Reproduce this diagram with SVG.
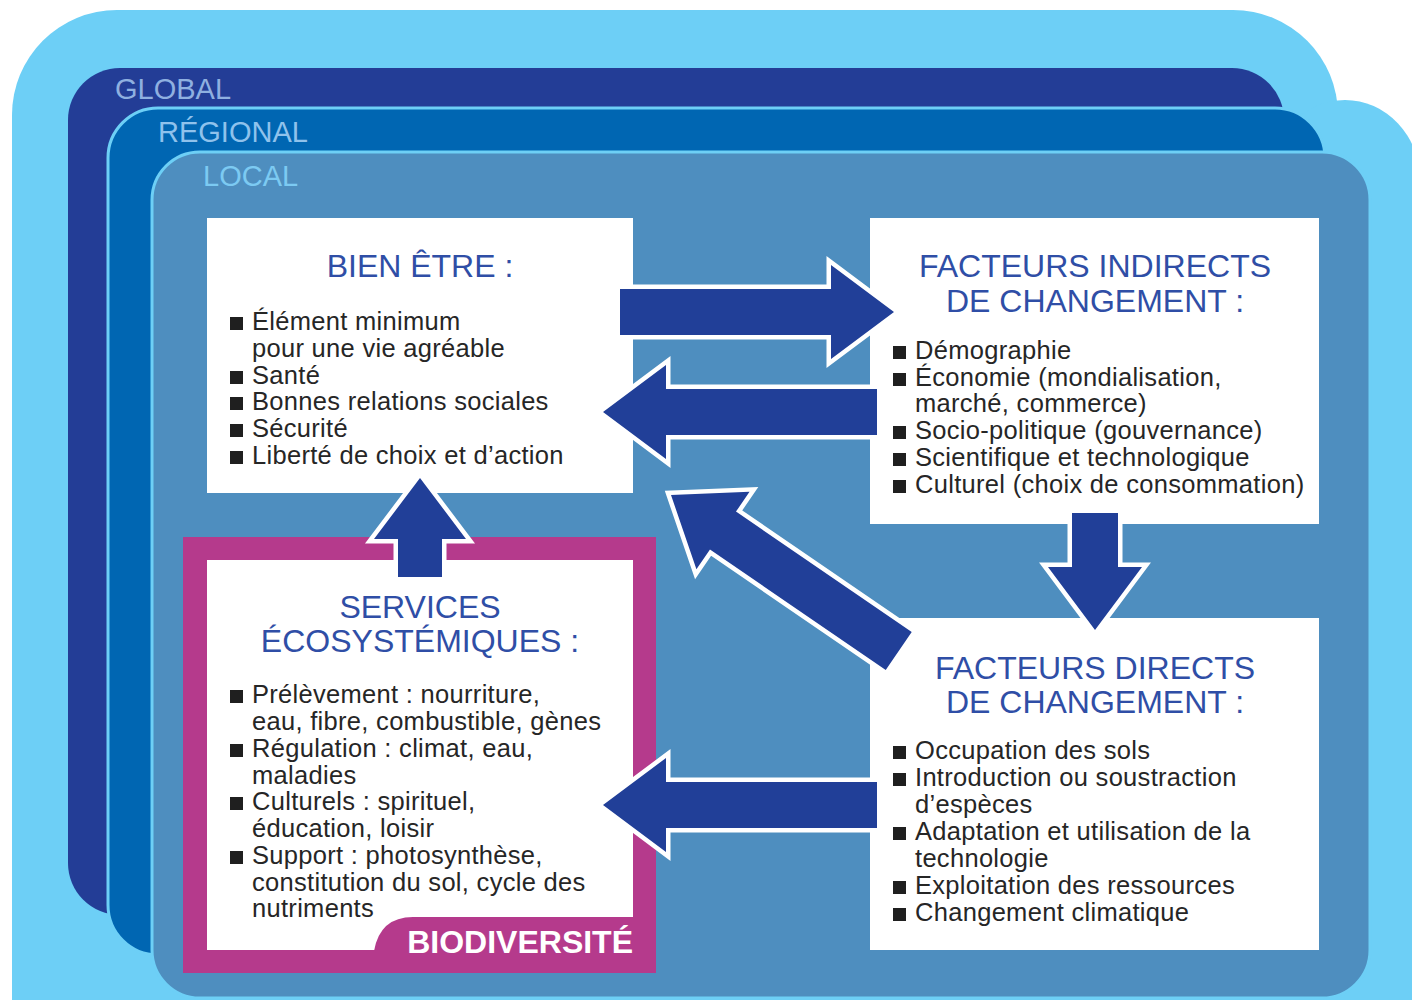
<svg xmlns="http://www.w3.org/2000/svg" width="1412" height="1000" viewBox="0 0 1412 1000">
<style>
.lvl{font-family:"Liberation Sans",Arial,sans-serif;font-size:29px}
.ttl{font-family:"Liberation Sans",Arial,sans-serif;font-size:32px;fill:#2f4ea6;text-anchor:middle}
.txt{font-family:"Liberation Sans",Arial,sans-serif;font-size:25.5px;letter-spacing:0.3px;fill:#262626}
.bul{fill:#1f1f1f}
.box{fill:#ffffff}
.arr{fill:#213f98;stroke:#ffffff;stroke-width:9;stroke-linejoin:miter;paint-order:stroke}
.bio{font-family:"Liberation Sans",Arial,sans-serif;font-size:32px;font-weight:bold;fill:#ffffff;text-anchor:end}
</style>
<g id="background">
<path fill="#6dcff6" d="M12,1000 L12,115 A105,105 0 0 1 117,10 L1233,10 A105,105 0 0 1 1338,115 L1338,1000 Z"/>
<rect x="1270" y="100" width="150" height="950" rx="80" fill="#6dcff6"/>
</g>
<g id="global">
<rect x="68" y="68" width="1216" height="847" rx="52" fill="#233d96"/>
<text class="lvl" x="115" y="99" fill="#8fb0e0">GLOBAL</text>
</g>
<g id="regional">
<rect x="108" y="108" width="1217" height="847" rx="50" fill="#0066b2" stroke="#6dcff6" stroke-width="3"/>
<text class="lvl" x="158" y="142" fill="#8fc2ec">RÉGIONAL</text>
</g>
<g id="local">
<rect x="152" y="152" width="1218" height="846" rx="48" fill="#4e8ebf" stroke="#6dcff6" stroke-width="3"/>
<text class="lvl" x="203" y="186" fill="#7ccaf2">LOCAL</text>
</g>
<g id="bien-etre">
<rect class="box" x="207" y="218" width="426" height="275"/>
<text class="ttl" x="420" y="277">BIEN ÊTRE :</text>
<rect class="bul" x="230" y="317" width="13" height="13"/>
<rect class="bul" x="230" y="371" width="13" height="13"/>
<rect class="bul" x="230" y="397" width="13" height="13"/>
<rect class="bul" x="230" y="424" width="13" height="13"/>
<rect class="bul" x="230" y="451" width="13" height="13"/>
<text class="txt" x="252" y="330">Élément minimum</text>
<text class="txt" x="252" y="357">pour une vie agréable</text>
<text class="txt" x="252" y="384">Santé</text>
<text class="txt" x="252" y="410">Bonnes relations sociales</text>
<text class="txt" x="252" y="437">Sécurité</text>
<text class="txt" x="252" y="464">Liberté de choix et d’action</text>
</g>
<g id="facteurs-indirects">
<rect class="box" x="870" y="218" width="449" height="306"/>
<text class="ttl" x="1095" y="277">FACTEURS INDIRECTS</text>
<text class="ttl" x="1095" y="312">DE CHANGEMENT :</text>
<rect class="bul" x="893" y="346" width="13" height="13"/>
<rect class="bul" x="893" y="373" width="13" height="13"/>
<rect class="bul" x="893" y="426" width="13" height="13"/>
<rect class="bul" x="893" y="453" width="13" height="13"/>
<rect class="bul" x="893" y="480" width="13" height="13"/>
<text class="txt" x="915" y="359">Démographie</text>
<text class="txt" x="915" y="386">Économie (mondialisation,</text>
<text class="txt" x="915" y="412">marché, commerce)</text>
<text class="txt" x="915" y="439">Socio-politique (gouvernance)</text>
<text class="txt" x="915" y="466">Scientifique et technologique</text>
<text class="txt" x="915" y="493">Culturel (choix de consommation)</text>
</g>
<g id="services">
<rect x="183" y="537" width="473" height="436" fill="#b53a8c"/>
<rect class="box" x="207" y="560" width="426" height="390"/>
<path fill="#b53a8c" d="M374,951 Q380,917 413,917 L634,917 L634,951 Z"/>
<text class="ttl" x="420" y="618">SERVICES</text>
<text class="ttl" x="420" y="652">ÉCOSYSTÉMIQUES :</text>
<rect class="bul" x="230" y="690" width="13" height="13"/>
<rect class="bul" x="230" y="744" width="13" height="13"/>
<rect class="bul" x="230" y="797" width="13" height="13"/>
<rect class="bul" x="230" y="851" width="13" height="13"/>
<text class="txt" x="252" y="703">Prélèvement : nourriture,</text>
<text class="txt" x="252" y="730">eau, fibre, combustible, gènes</text>
<text class="txt" x="252" y="757">Régulation : climat, eau,</text>
<text class="txt" x="252" y="784">maladies</text>
<text class="txt" x="252" y="810">Culturels : spirituel,</text>
<text class="txt" x="252" y="837">éducation, loisir</text>
<text class="txt" x="252" y="864">Support : photosynthèse,</text>
<text class="txt" x="252" y="891">constitution du sol, cycle des</text>
<text class="txt" x="252" y="917">nutriments</text>
<text class="bio" x="633" y="953">BIODIVERSITÉ</text>
</g>
<g id="facteurs-directs">
<rect class="box" x="870" y="618" width="449" height="332"/>
<text class="ttl" x="1095" y="679">FACTEURS DIRECTS</text>
<text class="ttl" x="1095" y="713">DE CHANGEMENT :</text>
<rect class="bul" x="893" y="746" width="13" height="13"/>
<rect class="bul" x="893" y="773" width="13" height="13"/>
<rect class="bul" x="893" y="827" width="13" height="13"/>
<rect class="bul" x="893" y="881" width="13" height="13"/>
<rect class="bul" x="893" y="908" width="13" height="13"/>
<text class="txt" x="915" y="759">Occupation des sols</text>
<text class="txt" x="915" y="786">Introduction ou soustraction</text>
<text class="txt" x="915" y="813">d’espèces</text>
<text class="txt" x="915" y="840">Adaptation et utilisation de la</text>
<text class="txt" x="915" y="867">technologie</text>
<text class="txt" x="915" y="894">Exploitation des ressources</text>
<text class="txt" x="915" y="921">Changement climatique</text>
</g>
<g id="connectors">
<path class="arr" transform="translate(894,312)" d="M0,0 L-63,-47 L-63,-23 L-274,-23 L-274,23 L-63,23 L-63,47 Z"/>
<path class="arr" transform="translate(603,412) rotate(180)" d="M0,0 L-63,-47 L-63,-23 L-274,-23 L-274,23 L-63,23 L-63,47 Z"/>
<path class="arr" transform="translate(1095,630) rotate(90)" d="M0,0 L-63,-47 L-63,-23 L-117,-23 L-117,23 L-63,23 L-63,47 Z"/>
<path class="arr" transform="translate(420,478) rotate(-90)" d="M0,0 L-61,-46 L-61,-22 L-99,-22 L-99,22 L-61,22 L-61,46 Z"/>
<path class="arr" transform="translate(671,495) rotate(214.4)" d="M0,0 L-63,-47 L-63,-23 L-276,-23 L-276,23 L-63,23 L-63,47 Z"/>
<path class="arr" transform="translate(603,805) rotate(180)" d="M0,0 L-63,-47 L-63,-23 L-274,-23 L-274,23 L-63,23 L-63,47 Z"/>
</g>
</svg>
